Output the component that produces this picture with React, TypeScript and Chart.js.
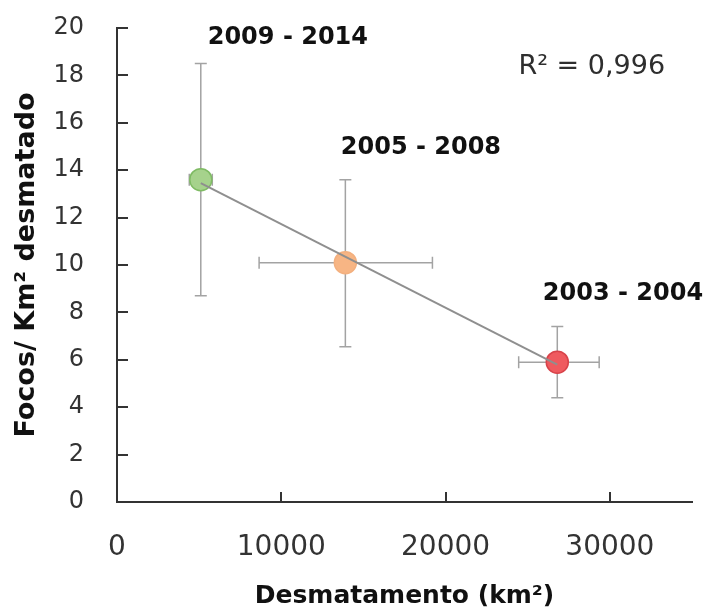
import React, { useEffect, useRef } from "react";
import { Chart, registerables } from "chart.js";

Chart.register(...registerables);

// ---- data ----
const periods = ["2003 - 2004", "2005 - 2008", "2009 - 2014"];
const deforestation = [26800, 13900, 5100]; // km²
const deforestationErrLow = [2350, 5250, 700];
const deforestationErrHigh = [2550, 5300, 700];
const fireDensity = [5.9, 10.1, 13.6]; // focos / km² desmatado
const fireDensityErrLow = [1.5, 3.55, 4.9];
const fireDensityErrHigh = [1.5, 3.5, 4.9];
const xTickValues = [0, 10000, 20000, 30000];
const yTickValues = [0, 2, 4, 6, 8, 10, 12, 14, 16, 18, 20];
const rSquaredText = "R² = 0,996";
const xTitle = "Desmatamento (km²)";
const yTitle = "Focos/ Km² desmatado";

// ---- styles ----
const FONT = '"DejaVu Sans", sans-serif';
const AXIS_COLOR = "#333333";
const pointFills = ["#ef5a5f", "#f7b584", "#a6d28c"];
const pointBorders = ["#d8434a", "#f3b07f", "#7fbb64"];
// label anchors in data space (x, y)
const labelAnchorX = [30800, 18500, 10400];
const labelAnchorY = [8.78, 14.94, 19.6];
const rAnchor = { x: 28900, y: 18.35 };

function linearFit(xs: number[], ys: number[]) {
  const n = xs.length;
  const mx = xs.reduce((a, b) => a + b, 0) / n;
  const my = ys.reduce((a, b) => a + b, 0) / n;
  let sxy = 0;
  let sxx = 0;
  for (let i = 0; i < n; i++) {
    sxy += (xs[i] - mx) * (ys[i] - my);
    sxx += (xs[i] - mx) * (xs[i] - mx);
  }
  const slope = sxy / sxx;
  return { slope, intercept: my - slope * mx };
}

const decorPlugin = {
  id: "decor",
  beforeDatasetsDraw(chart: any) {
    const { ctx, scales } = chart;
    const x = scales.x;
    const y = scales.y;
    ctx.save();
    ctx.strokeStyle = "#a3a3a3";
    ctx.lineWidth = 1.5;
    const cap = 6;
    for (let i = 0; i < deforestation.length; i++) {
      const px = x.getPixelForValue(deforestation[i]);
      const py = y.getPixelForValue(fireDensity[i]);
      const xl = x.getPixelForValue(deforestation[i] - deforestationErrLow[i]);
      const xr = x.getPixelForValue(deforestation[i] + deforestationErrHigh[i]);
      const yt = y.getPixelForValue(fireDensity[i] + fireDensityErrHigh[i]);
      const yb = y.getPixelForValue(fireDensity[i] - fireDensityErrLow[i]);
      ctx.beginPath();
      ctx.moveTo(xl, py);
      ctx.lineTo(xr, py);
      ctx.moveTo(xl, py - cap);
      ctx.lineTo(xl, py + cap);
      ctx.moveTo(xr, py - cap);
      ctx.lineTo(xr, py + cap);
      ctx.moveTo(px, yt);
      ctx.lineTo(px, yb);
      ctx.moveTo(px - cap, yt);
      ctx.lineTo(px + cap, yt);
      ctx.moveTo(px - cap, yb);
      ctx.lineTo(px + cap, yb);
      ctx.stroke();
    }
    ctx.restore();
  },
  afterDraw(chart: any) {
    const { ctx, scales, chartArea } = chart;
    const x = scales.x;
    const y = scales.y;
    ctx.save();
    // inward tick marks
    ctx.strokeStyle = AXIS_COLOR;
    ctx.lineWidth = 2;
    ctx.beginPath();
    y.ticks.forEach((t: any) => {
      if (t.value === 0) return;
      const py = Math.round(y.getPixelForValue(t.value));
      ctx.moveTo(chartArea.left, py);
      ctx.lineTo(chartArea.left + 11, py);
    });
    x.ticks.forEach((t: any) => {
      if (t.value === 0) return;
      const px = Math.round(x.getPixelForValue(t.value));
      ctx.moveTo(px, chartArea.bottom);
      ctx.lineTo(px, chartArea.bottom - 10);
    });
    ctx.stroke();
    // period labels
    ctx.fillStyle = "#111111";
    ctx.textAlign = "center";
    ctx.textBaseline = "middle";
    ctx.font = `bold 24px ${FONT}`;
    for (let i = 0; i < periods.length; i++) {
      ctx.fillText(
        periods[i],
        x.getPixelForValue(labelAnchorX[i]),
        y.getPixelForValue(labelAnchorY[i])
      );
    }
    ctx.fillStyle = "#2e2e2e";
    ctx.font = `27px ${FONT}`;
    ctx.fillText(rSquaredText, x.getPixelForValue(rAnchor.x), y.getPixelForValue(rAnchor.y));
    ctx.restore();
  },
};

export default function App() {
  const canvasRef = useRef<HTMLCanvasElement | null>(null);

  useEffect(() => {
    if (!canvasRef.current) return;
    const fit = linearFit(deforestation, fireDensity);
    const xMin = Math.min(...deforestation);
    const xMax = Math.max(...deforestation);
    const chart = new Chart(canvasRef.current, {
      type: "scatter",
      data: {
        datasets: [
          {
            label: "Tendência",
            data: [
              { x: xMin, y: fit.intercept + fit.slope * xMin },
              { x: xMax, y: fit.intercept + fit.slope * xMax },
            ],
            showLine: true,
            borderColor: "#8f8f8f",
            borderWidth: 2,
            pointRadius: 0,
            order: 0,
          } as any,
          {
            label: "Períodos",
            data: deforestation.map((v, i) => ({ x: v, y: fireDensity[i] })),
            backgroundColor: pointFills,
            borderColor: pointBorders,
            borderWidth: 1.5,
            pointRadius: 11,
            order: 1,
          } as any,
        ],
      },
      options: {
        animation: false,
        responsive: true,
        maintainAspectRatio: false,
        layout: { padding: { top: 28, right: 18, left: 0, bottom: 0 } },
        plugins: {
          legend: { display: false },
          tooltip: { enabled: false },
        },
        scales: {
          x: {
            type: "linear",
            min: 0,
            max: 35000,
            afterBuildTicks: (s: any) => {
              s.ticks = xTickValues.map((v) => ({ value: v }));
            },
            afterFit: (s: any) => {
              s.height = 109;
              s.paddingLeft = 0;
              s.paddingRight = 0;
            },
            ticks: {
              font: { family: FONT, size: 28 },
              color: AXIS_COLOR,
              padding: 29,
              maxRotation: 0,
              autoSkip: false,
              callback: (v: any) => String(v),
            },
            grid: { display: true, drawOnChartArea: false, drawTicks: false },
            border: { display: true, color: AXIS_COLOR, width: 2 },
            title: {
              display: true,
              text: xTitle,
              color: "#111111",
              font: { family: FONT, size: 25, weight: "bold" },
              padding: { top: 0, bottom: 0 },
            },
          },
          y: {
            type: "linear",
            min: 0,
            max: 20,
            afterBuildTicks: (s: any) => {
              s.ticks = yTickValues.map((v) => ({ value: v }));
            },
            afterFit: (s: any) => {
              s.width = 117;
              s.paddingTop = 0;
              s.paddingBottom = 0;
            },
            ticks: {
              font: { family: FONT, size: 24 },
              color: AXIS_COLOR,
              padding: 33,
              autoSkip: false,
            },
            grid: { display: true, drawOnChartArea: false, drawTicks: false },
            border: { display: true, color: AXIS_COLOR, width: 2 },
            title: {
              display: true,
              text: yTitle,
              color: "#111111",
              font: { family: FONT, size: 27, weight: "bold" },
              padding: { top: 11, bottom: 0 },
            },
          },
        },
      },
      plugins: [decorPlugin],
    });
    return () => chart.destroy();
  }, []);

  return (
    <div style={{ position: "fixed", left: 0, top: 0, width: 710, height: 611, background: "#ffffff" }}>
      <canvas ref={canvasRef} />
    </div>
  );
}
